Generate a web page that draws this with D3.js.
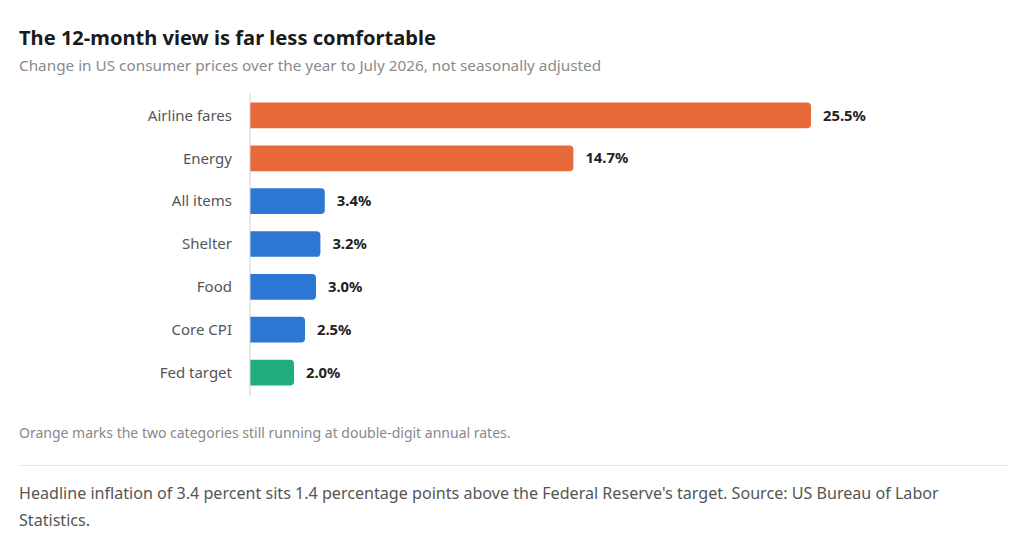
<!DOCTYPE html>
<html>
<head>
<meta charset="utf-8">
<script src="https://cdn.jsdelivr.net/npm/d3@7"></script>
<style>
  body { margin: 0; background: #fff; font-family: "Segoe UI", "Noto Sans", "Open Sans", sans-serif; }
  #chart { display: block; }
  .foot { position: absolute; left: 19px; top: 480px; width: 960px; font-size: 16.1px; line-height: 27px; color: #555; }
</style>
</head>
<body>
<svg id="chart"></svg>
<div class="foot">Headline inflation of 3.4 percent sits 1.4 percentage points above the Federal Reserve's target. Source: US Bureau of Labor Statistics.</div>
<script>
var width = 1024, height = 540;

// data
var categories = ["Airline fares", "Energy", "All items", "Shelter", "Food", "Core CPI", "Fed target"];
var values = [25.5, 14.7, 3.4, 3.2, 3.0, 2.5, 2.0];
var groups = ["hot", "hot", "normal", "normal", "normal", "normal", "target"];

var color = {hot: "#E8693A", normal: "#2D77D4", target: "#20AE7C"};

var rows = categories.map((c, i) => ({name: c, value: values[i], group: groups[i]}));

var svg = d3.select("#chart")
        .attr("width", width)
        .attr("height", height);

svg.append("text")
   .attr("x", 19).attr("y", 45)
   .attr("font-size", 20.1)
   .attr("font-weight", "bold")
   .attr("fill", "#1a1a1a")
   .text("The 12-month view is far less comfortable");

svg.append("text")
   .attr("x", 19).attr("y", 71)
   .attr("font-size", 15.3)
   .attr("fill", "#8a8a8a")
   .text("Change in US consumer prices over the year to July 2026, not seasonally adjusted");

var x = d3.scaleLinear()
        .domain([0, 25.5])
        .range([250, 811]);

var y = d3.scaleBand()
        .domain(categories)
        .range([94, 394])
        .paddingInner(0.4)
        .paddingOuter(0.2);

// category labels
svg.selectAll("text.cat")
   .data(rows)
   .join("text")
   .attr("class", "cat")
   .attr("x", 232)
   .attr("y", d => y(d.name) + y.bandwidth() / 2)
   .attr("dy", "0.35em")
   .attr("text-anchor", "end")
   .attr("font-size", 15)
   .attr("fill", "#555")
   .text(d => d.name);

// bars, square at left, rounded at right
function barPath(d) {
    var x0 = x(0), x1 = x(d.value), y0 = y(d.name), h = y.bandwidth(), r = 4;
    return "M" + x0 + "," + y0 +
           "H" + (x1 - r) + "Q" + x1 + "," + y0 + " " + x1 + "," + (y0 + r) +
           "V" + (y0 + h - r) + "Q" + x1 + "," + (y0 + h) + " " + (x1 - r) + "," + (y0 + h) +
           "H" + x0 + "Z";
}

svg.selectAll("path.bar")
   .data(rows)
   .join("path")
   .attr("class", "bar")
   .attr("d", barPath)
   .attr("fill", d => color[d.group]);

// axis line
svg.append("line")
   .attr("x1", x(0)).attr("x2", x(0))
   .attr("y1", 93).attr("y2", 396)
   .attr("stroke", "#cfcfcf")
   .attr("stroke-width", 1);

// value labels
svg.selectAll("text.val")
   .data(rows)
   .join("text")
   .attr("class", "val")
   .attr("x", d => x(d.value) + 12)
   .attr("y", d => y(d.name) + y.bandwidth() / 2)
   .attr("dy", "0.35em")
   .attr("font-size", 14.8)
   .attr("font-weight", "bold")
   .attr("fill", "#222")
   .text(d => d.value.toFixed(1) + "%");

svg.append("text")
   .attr("x", 19).attr("y", 438)
   .attr("font-size", 14)
   .attr("fill", "#888")
   .text("Orange marks the two categories still running at double-digit annual rates.");

svg.append("line")
   .attr("x1", 19).attr("x2", 1007)
   .attr("y1", 465.5).attr("y2", 465.5)
   .attr("stroke", "#e3e3e3");
</script>
</body>
</html>
